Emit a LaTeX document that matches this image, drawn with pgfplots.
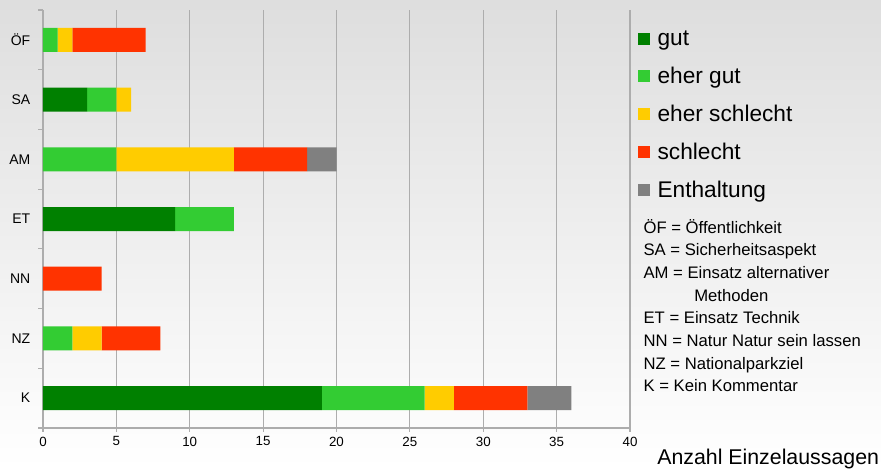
\documentclass[border=0pt]{standalone}
\usepackage{pgfplots}
\pgfplotsset{compat=1.18}
\usepackage{fontspec}
\setmainfont{Liberation Sans}
\definecolor{cgut}{HTML}{008000}
\definecolor{cehergut}{HTML}{33CC33}
\definecolor{ceherschlecht}{HTML}{FFCC00}
\definecolor{cschlecht}{HTML}{FF3300}
\definecolor{centh}{HTML}{808080}
\begin{document}
\begin{tikzpicture}
\shade[top color=black!13, bottom color=white] (0pt,0pt) rectangle (660.75pt,351.75pt);
\begin{axis}[
  at={(32.25pt,30.75pt)}, anchor=south west,
  width=440.25pt, height=313.5pt, scale only axis,
  xmin=0, xmax=40, ymin=-0.5, ymax=6.5, y dir=reverse,
  xbar stacked, bar width=18pt,
  xtick={0,5,...,40},
  ytick={0,...,6}, yticklabels={ÖF,SA,AM,ET,NN,NZ,K},
  minor ytick={-0.5,0.5,...,6.5},
  axis x line*=bottom, axis y line*=left,
  axis line style={draw=black!32, line width=0.8pt},
  xmajorgrids, grid style={black!32, line width=0.8pt},
  tick align=outside,
  tick style={draw=black!32, line width=0.8pt},
  major tick length=3pt, minor tick length=3.5pt,
  major y tick style={draw=none},
  tick label style={font=\fontsize{10}{12}\selectfont},
  yticklabel style={xshift=-3pt, font=\fontsize{10.5}{12}\selectfont},
  /pgf/number format/assume math mode=true,
  legend style={at={(1,1)}, anchor=north west, xshift=6pt, yshift=-13.5pt,
    draw=none, fill=none, font=\fontsize{17}{20}\selectfont,
    row sep=10.7pt, inner sep=0pt},
  legend cell align=left,
  legend image code/.code={\fill[#1] (0pt,-4.5pt) rectangle (9pt,4.5pt); \path (12.5pt,0pt);},
]
\addplot[fill=cgut, draw=none] coordinates {(0,0) (3,1) (0,2) (9,3) (0,4) (0,5) (19,6)};
\addplot[fill=cehergut, draw=none] coordinates {(1,0) (2,1) (5,2) (4,3) (0,4) (2,5) (7,6)};
\addplot[fill=ceherschlecht, draw=none] coordinates {(1,0) (1,1) (8,2) (0,3) (0,4) (2,5) (2,6)};
\addplot[fill=cschlecht, draw=none] coordinates {(5,0) (0,1) (5,2) (0,3) (4,4) (4,5) (5,6)};
\addplot[fill=centh, draw=none] coordinates {(0,0) (0,1) (2,2) (0,3) (0,4) (0,5) (3,6)};
\legend{gut, eher gut, eher schlecht, schlecht, Enthaltung}
\end{axis}
\node[anchor=north west, align=left, inner sep=0pt, font=\fontsize{12.5}{17}\selectfont] at (482.5pt,187.5pt)
 {ÖF = Öffentlichkeit\\
  SA = Sicherheitsaspekt\\
  AM = Einsatz alternativer\\
  \hspace*{38pt}Methoden\\
  ET = Einsatz Technik\\
  NN = Natur Natur sein lassen\\
  NZ = Nationalparkziel\\
  K = Kein Kommentar};
\node[anchor=base west, inner sep=0pt, font=\fontsize{16}{19}\selectfont] at (492.75pt,3pt) {Anzahl Einzelaussagen};
\end{tikzpicture}
\end{document}
